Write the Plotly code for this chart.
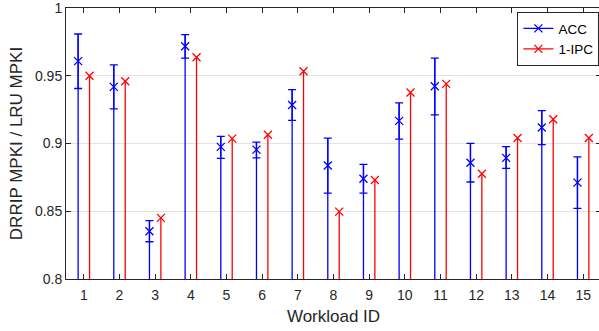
import plotly.graph_objects as go

workloads = list(range(1, 16))
acc_mean = [0.9608, 0.9418, 0.8353, 0.9718, 0.8975, 0.8955, 0.9284, 0.8838, 0.8740, 0.9167, 0.9423, 0.8858, 0.8894, 0.9118, 0.8711]
acc_upper = [0.9808, 0.9580, 0.8431, 0.9803, 0.9053, 0.9010, 0.9398, 0.9039, 0.8846, 0.9300, 0.9630, 0.9001, 0.8977, 0.9243, 0.8901]
acc_lower = [0.9406, 0.9255, 0.8275, 0.9630, 0.8890, 0.8894, 0.9170, 0.8634, 0.8634, 0.9033, 0.9211, 0.8716, 0.8816, 0.8992, 0.8521]
ipc = [0.9500, 0.9460, 0.8451, 0.9637, 0.9036, 0.9065, 0.9533, 0.8497, 0.8731, 0.9376, 0.9440, 0.8777, 0.9040, 0.9179, 0.9040]
base = 0.8
off = 0.16
BLUE = "#0000FF"
RED = "#FF0000"
AX = "#262626"

fig = go.Figure()

bx, by = [], []
for w, u in zip(workloads, acc_upper):
    bx += [w - off, w - off, None]
    by += [base, u, None]
rx, ry = [], []
for w, v in zip(workloads, ipc):
    rx += [w + off, w + off, None]
    ry += [base, v, None]

fig.add_trace(go.Scatter(x=bx, y=by, mode="lines", line=dict(color=BLUE, width=1.3),
                         showlegend=False, hoverinfo="skip"))
fig.add_trace(go.Scatter(x=rx, y=ry, mode="lines", line=dict(color=RED, width=1.3),
                         showlegend=False, hoverinfo="skip"))
fig.add_trace(go.Scatter(
    x=[w - off for w in workloads], y=acc_mean, mode="markers",
    marker=dict(symbol="x-thin", size=8, line=dict(color=BLUE, width=1.3), color=BLUE),
    error_y=dict(type="data", symmetric=False,
                 array=[u - m for u, m in zip(acc_upper, acc_mean)],
                 arrayminus=[m - l for m, l in zip(acc_mean, acc_lower)],
                 color=BLUE, thickness=1.3, width=4),
    showlegend=False))
fig.add_trace(go.Scatter(
    x=[w + off for w in workloads], y=ipc, mode="markers",
    marker=dict(symbol="x-thin", size=8, line=dict(color=RED, width=1.3), color=RED),
    showlegend=False))

# legend entries
fig.add_trace(go.Scatter(x=[None], y=[None], mode="lines+markers", name="ACC",
                         line=dict(color=BLUE, width=1.3),
                         marker=dict(symbol="x-thin", size=8, line=dict(color=BLUE, width=1.3))))
fig.add_trace(go.Scatter(x=[None], y=[None], mode="lines+markers", name="1-IPC",
                         line=dict(color=RED, width=1.3),
                         marker=dict(symbol="x-thin", size=8, line=dict(color=RED, width=1.3))))

fig.update_layout(
    width=602, height=331,
    margin=dict(l=66, r=0, t=5, b=52),
    plot_bgcolor="white", paper_bgcolor="white",
    font=dict(family="Liberation Sans, Arial, sans-serif", size=14, color=AX),
    legend=dict(x=0.997, y=0.985, xanchor="right", yanchor="top",
                bgcolor="white", bordercolor=AX, borderwidth=1,
                font=dict(size=13.5, color="black"),
                itemwidth=30, tracegroupgap=0),
)
fig.update_xaxes(range=[0.5, 15.5], tickmode="array", tickvals=workloads,
                 ticktext=[str(w) for w in workloads],
                 showgrid=False, zeroline=False, showline=True, linecolor=AX, linewidth=1,
                 mirror="ticks", ticks="inside", ticklen=5, tickcolor=AX,
                 ticklabelstandoff=3,
                 title=dict(text="Workload ID", standoff=8, font=dict(size=17)))
fig.update_yaxes(range=[0.8, 1.0], tickmode="array",
                 tickvals=[0.8, 0.85, 0.9, 0.95, 1.0],
                 ticktext=["0.8", "0.85", "0.9", "0.95", "1"],
                 ticklabeloverflow="allow",
                 showgrid=True, gridcolor="#e3e3e3", gridwidth=1, zeroline=False,
                 showline=True, linecolor=AX, linewidth=1,
                 mirror="ticks", ticks="inside", ticklen=5, tickcolor=AX,
                 title=dict(text="DRRIP MPKI / LRU MPKI", standoff=8, font=dict(size=17)))

fig.write_html("out.html", config={"displayModeBar": False},
               post_script="document.body.style.margin='0';document.body.style.overflow='hidden';")
